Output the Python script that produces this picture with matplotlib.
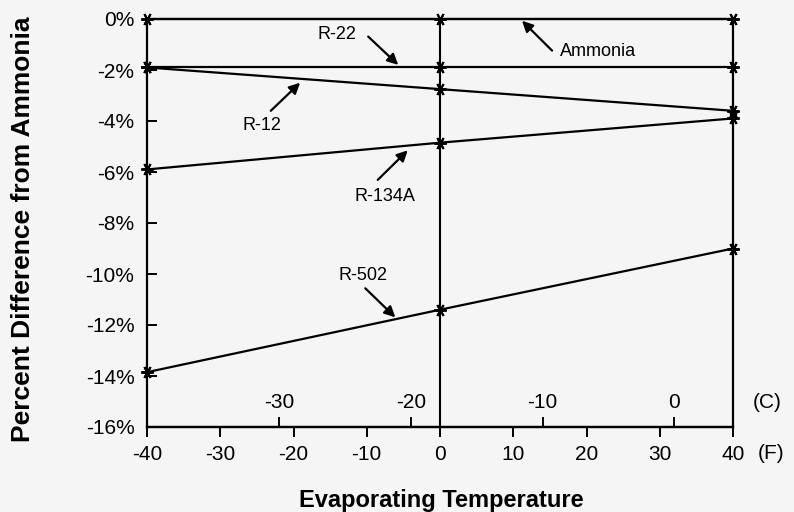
import matplotlib

matplotlib.use("Agg")
import matplotlib.pyplot as plt

plt.rcParams['font.family'] = ['Liberation Sans', 'DejaVu Sans']
plt.rcParams['axes.unicode_minus'] = False

# Evaporating temperature (F) and percent difference from ammonia
temps_f = [-40, 0, 40]
ammonia = [0.0, 0.0, 0.0]
r22 = [-1.9, -1.9, -1.9]
r12 = [-1.9, -2.75, -3.6]
r134a = [-5.9, -4.85, -3.9]
r502 = [-13.85, -11.4, -9.0]

series = [ammonia, r22, r12, r134a, r502]

f_ticks = [-40, -30, -20, -10, 0, 10, 20, 30, 40]
c_ticks = [-30, -20, -10, 0]
y_ticks = [0, -2, -4, -6, -8, -10, -12, -14, -16]

# label text, text position, arrow tail, arrow head (data coords)
labels = [
    ("R-22", (-14.1, -0.61), (-9.8, -0.69), (-5.7, -1.80)),
    ("Ammonia", (21.6, -1.28), (15.3, -1.24), (11.2, -0.07)),
    ("R-12", (-24.3, -4.19), (-23.1, -3.60), (-19.1, -2.50)),
    ("R-134A", (-7.5, -6.98), (-8.5, -6.31), (-4.4, -5.15)),
    ("R-502", (-10.5, -10.05), (-10.2, -10.56), (-6.1, -11.70)),
]

bg = '#f5f5f5'
fig = plt.figure(figsize=(7.94, 5.12), dpi=100, facecolor=bg)
ax = fig.add_axes([147 / 794, 1 - 427 / 512, 586 / 794, 408 / 512])
ax.set_facecolor(bg)

for vals in series:
    ax.plot(temps_f, vals, color='black', lw=1.6, marker=(6, 2, 90),
            markersize=9, mew=1.4, clip_on=False, zorder=3)

ax.axvline(0, color='black', lw=1.5)

ax.set_xlim(-40, 40)
ax.set_ylim(-16, 0)
ax.set_xticks(f_ticks)
ax.set_yticks(y_ticks)
ax.set_yticklabels([f"{v}%" for v in y_ticks])
ax.tick_params(axis='y', direction='in', length=7, width=1.4, labelsize=15, pad=9)
ax.tick_params(axis='x', direction='out', length=7, width=1.4, labelsize=15, pad=6)
for s in ax.spines.values():
    s.set_linewidth(1.6)

# Celsius scale drawn inside, along the bottom
sec = ax.secondary_xaxis('top', functions=(lambda f: (f - 32) * 5 / 9,
                                           lambda c: c * 9 / 5 + 32))
sec.set_location(0.0)
sec.set_xticks(c_ticks)
sec.tick_params(axis='x', direction='out', length=7, width=1.4, labelsize=15, pad=4)
sec.spines['top'].set_linewidth(1.6)

ax.text(1.058, 0.059, "(C)", transform=ax.transAxes, fontsize=15,
        ha='center', va='center')
ax.text(1.065, -0.066, "(F)", transform=ax.transAxes, fontsize=15,
        ha='center', va='center')

for name, txt, tail, head in labels:
    ax.text(txt[0], txt[1], name, fontsize=13, ha='center', va='center')
    ax.annotate("", xy=head, xytext=tail,
                arrowprops=dict(arrowstyle='-|>', color='black', lw=1.6,
                                mutation_scale=16, shrinkA=0, shrinkB=0))

ax.set_ylabel("Percent Difference from Ammonia", fontsize=19, fontweight='bold',
              va='center')
ax.yaxis.set_label_coords(-0.2116, 0.485)
ax.set_xlabel("Evaporating Temperature", fontsize=17, fontweight='bold',
              va='center')
ax.xaxis.set_label_coords(0.503, -0.179)

fig.savefig("out.png", dpi=100, facecolor=bg)
